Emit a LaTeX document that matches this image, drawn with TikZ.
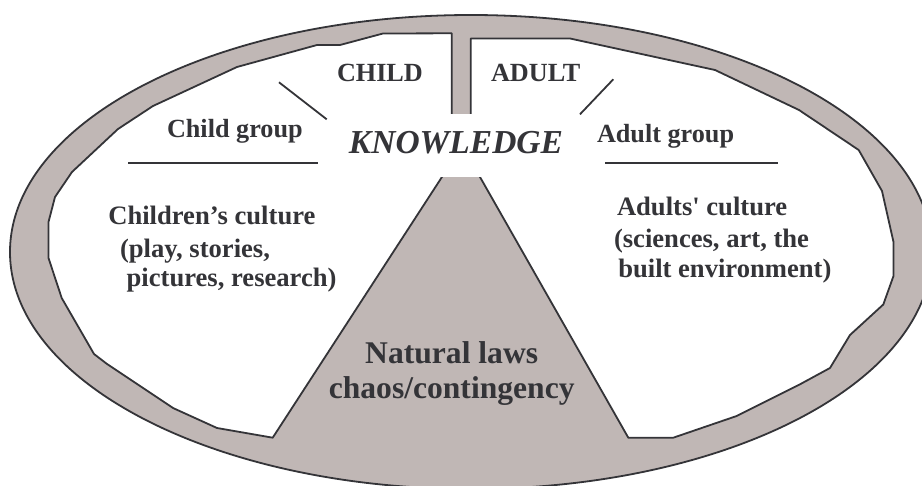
\documentclass[tikz,border=0pt]{standalone}
\usepackage{fontspec}
\setmainfont{Liberation Serif}
\definecolor{band}{RGB}{192,183,181}
\definecolor{ink}{RGB}{52,52,56}

\begin{document}
\begin{tikzpicture}[x=0.5pt,y=-0.5pt,
	rim/.style={draw=ink,line width=0.9pt,line join=round},
	rule/.style={draw=ink,line width=0.9pt},
	lbl/.style={inner sep=0,outer sep=0,text=ink,anchor=base west,font=\bfseries\fontsize{13.1}{15}\selectfont},
	culture/.style={lbl,font=\bfseries\fontsize{13.3}{15}\selectfont},
	laws/.style={inner sep=0,outer sep=0,text=ink,anchor=base,font=\bfseries\fontsize{15.8}{18}\selectfont}]
	\useasboundingbox (0,0) rectangle (922,486);
	\fill[white] (0,0) rectangle (922,486);
	\filldraw[rim,fill=band] (471,252) ellipse [x radius=230.5pt,y radius=118.5pt];
	\filldraw[rim,fill=white] (451.7,130) -- (451.7,33.3) -- (383,33.5) -- (340,45) -- (317,45) -- (237,67) -- (153,106) -- (118,129) -- (72,172) -- (55,197) -- (48.5,222) -- (48.5,258) -- (61.7,298) -- (94,354) -- (107,364) -- (173,408) -- (217,428) -- (272.7,437.7) -- (446.5,170) -- (476,170) -- (628.3,437.7) -- (673.3,437.7) -- (736.7,416) -- (800,384.3) -- (830,368) -- (850,335) -- (883.3,304.5) -- (893.5,276) -- (893.5,242) -- (882,191) -- (858.7,150) -- (799,110) -- (715,70) -- (570,38.5) -- (470.7,38.5) -- (470.7,130) -- cycle;
	\node[fill=white,inner sep=0,minimum width=120pt,minimum height=31.5pt,text depth=3pt,text=ink,font=\bfseries\itshape\fontsize{16.75}{18}\selectfont] (know) at (456,145.8) {KNOWLEDGE};
	\node[lbl] (child) at (337,82) {CHILD};
	\node[lbl] (adult) at (491,82) {ADULT};
	\node[lbl] (childgrp) at (167,137.5) {Child group};
	\node[lbl] (adultgrp) at (597,143) {Adult group};
	\node[culture] (childcult) at (108.3,225) {Children’s culture};
	\node[culture] (play) at (120,258) {(play, stories,};
	\node[culture] (pict) at (126.7,287) {pictures, research)};
	\node[culture] (adultcult) at (617,216) {Adults\textquotesingle\ culture};
	\node[culture] (sci) at (614,248) {(sciences, art, the};
	\node[culture] (built) at (618.3,277.7) {built environment)};
	\node[laws] (nat) at (451.7,363.3) {Natural laws};
	\node[laws] (chaos) at (451.7,398.3) {chaos/contingency};
	\coordinate (childtick) at (279,82.3);
	\coordinate (childtickend) at (326.7,119.3);
	\coordinate (adulttick) at (613.3,79.3);
	\coordinate (adulttickend) at (580,114.3);
	\coordinate (childrule) at (128.3,163.3);
	\coordinate (childruleend) at (318.3,163.3);
	\coordinate (adultrule) at (605,163.3);
	\coordinate (adultruleend) at (778.3,163.3);
	\draw[rule] (childtick) -- (childtickend);
	\draw[rule] (adulttick) -- (adulttickend);
	\draw[rule] (childrule) -- (childruleend);
	\draw[rule] (adultrule) -- (adultruleend);
\end{tikzpicture}
\end{document}
